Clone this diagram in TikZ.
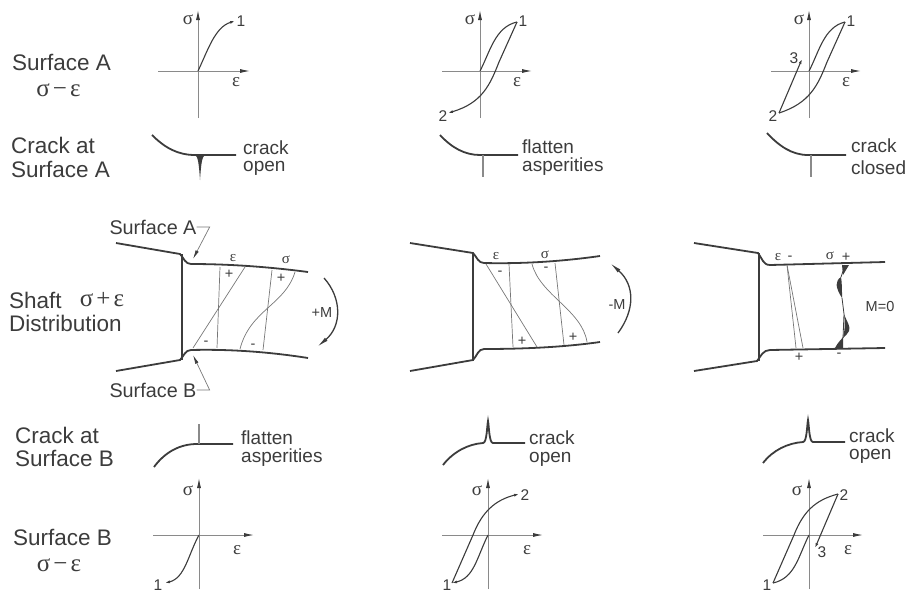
\documentclass[tikz,border=0pt]{standalone}
\usepackage{xcolor}
\usepackage{fontspec}
\setmainfont{Liberation Sans}
\newfontfamily\greekfont{Liberation Serif}
\usetikzlibrary{arrows.meta,positioning}
\definecolor{figink}{HTML}{3C3C3C}
\definecolor{figaxis}{HTML}{8A8A8A}
\definecolor{figthin}{HTML}{777777}
\tikzstyle{rowlabel} = [inner sep=0pt, anchor=west, text=figink, font=\fontsize{22.5}{22.5}\selectfont]
\tikzstyle{rowsym} = [inner sep=0pt, text=figink, font=\fontsize{25}{25}\selectfont\greekfont]
\tikzstyle{notelabel} = [inner sep=0pt, anchor=west, text=figink, font=\fontsize{19}{19}\selectfont]
\tikzstyle{leaderlabel} = [inner sep=0pt, text=figink, font=\fontsize{19.8}{19.8}\selectfont]
\tikzstyle{plotsym} = [inner sep=0pt, text=figink, font=\fontsize{19}{19}\selectfont\greekfont]
\tikzstyle{plotnum} = [inner sep=0pt, text=figink, font=\fontsize{15.5}{15.5}\selectfont]
\tikzstyle{smallsym} = [inner sep=0pt, text=figink, font=\fontsize{15}{15}\selectfont\greekfont]
\tikzstyle{smalllabel} = [inner sep=0pt, text=figink, font=\fontsize{14.5}{14.5}\selectfont]
\tikzstyle{axisline} = [figaxis, line width=0.9pt]
\tikzstyle{axisarrow} = [-{Latex[length=10pt,width=4pt,color=figink]}, figaxis, line width=0.9pt]
\tikzstyle{curve} = [figink, line width=1.1pt]
\tikzstyle{curvetip} = [-{Latex[length=5pt,width=3pt]}, figink, line width=1.1pt]
\tikzstyle{crackline} = [figink, line width=1.8pt]
\tikzstyle{crackstem} = [figaxis, line width=1.8pt]
\tikzstyle{shaftline} = [figink, line width=1.8pt]
\tikzstyle{thinline} = [figthin, line width=0.7pt]
\tikzstyle{leader} = [-{Latex[length=9pt,width=3.5pt,color=figink]}, figthin, line width=0.7pt]
\tikzstyle{moment} = [-{Latex[length=12pt,width=4pt]}, figink, line width=1.3pt]

\begin{document}
\begin{tikzpicture}[x=1pt, y=-1pt]
\useasboundingbox (0,0) rectangle (909,592);

% row labels
\node[rowlabel] (labsurfa) at (12,62) {Surface A};
\node[rowsym] (labsea) at (58.5,90) {σ\kern3pt−\kern3ptε};
\node[rowlabel] (labcracka) at (11,145) {Crack at};
\node[rowlabel] (labcrackasurf) at (11,169) {Surface A};
\node[rowlabel] (labshaft) at (9,300) {Shaft};
\node[rowsym] (labshaftse) at (102,300) {σ\kern3pt+\kern3ptε};
\node[rowlabel] (labdist) at (9,323) {Distribution};
\node[rowlabel] (labcrackb) at (15,435) {Crack at};
\node[rowlabel] (labcrackbsurf) at (15,458) {Surface B};
\node[rowlabel] (labsurfb) at (13,537) {Surface B};
\node[rowsym] (labseb) at (59,565) {σ\kern3pt−\kern3ptε};

% top plots
\draw[axisline] (198,118) -- (198,71);
\draw[axisarrow] (198,71) -- (198,10);
\draw[axisarrow] (158,71) -- (250,71);
\draw[curvetip] (198,71) .. controls (208,50) and (215,27) .. (235,21);
\node[plotsym] (sa1s) at (188,20) {σ};
\node[plotsym] (sa1e) at (236,82) {ε};
\node[plotnum] (sa1p) at (241,21) {1};

\draw[axisline] (480,118) -- (480,71);
\draw[axisarrow] (480,71) -- (480,10);
\draw[axisarrow] (442,71) -- (532,71);
\draw[curve] (480,71) .. controls (490,52) and (495,27) .. (517,22);
\draw[curvetip] (517,22) -- (499,62) .. controls (490,85) and (482,103) .. (448,113);
\node[plotsym] (sa2s) at (470,20) {σ};
\node[plotsym] (sa2e) at (517,82) {ε};
\node[plotnum] (sa2p) at (523,21) {1};
\node[plotnum] (sa2q) at (443,116) {2};

\draw[axisline] (809,118) -- (809,71);
\draw[axisarrow] (809,71) -- (809,10);
\draw[axisarrow] (771,71) -- (861,71);
\draw[curve] (809,71) .. controls (819,52) and (824,27) .. (845,22);
\draw[curve] (845,22) -- (827,62) .. controls (818,85) and (810,103) .. (779,113);
\draw[curvetip] (779,113) -- (802,59);
\node[plotsym] (sa3s) at (799,20) {σ};
\node[plotsym] (sa3e) at (846,82) {ε};
\node[plotnum] (sa3p) at (851,21) {1};
\node[plotnum] (sa3q) at (773,116) {2};
\node[plotnum] (sa3r) at (794,58) {3};

% crack at surface A
\draw[crackline] (152,135) .. controls (165,148) and (178,155) .. (195,155) -- (236,155);
\fill[figink] (195,155) .. controls (198,156) and (199,165) .. (200,180)
    .. controls (201,165) and (202,156) .. (205,155) -- cycle;
\node[notelabel] (ca1a) at (243,148) {crack};
\node[notelabel] (ca1b) at (243,168) {open};
\draw[crackline] (440,135) .. controls (452,148) and (465,155) .. (480,155) -- (518,155);
\draw[crackstem] (483,155) -- (483,177);
\node[notelabel] (ca2a) at (522,147) {flatten};
\node[notelabel] (ca2b) at (522,167) {asperities};
\draw[crackline] (767,133) .. controls (779,146) and (792,155) .. (808,155) -- (846,155);
\draw[crackstem] (811,155) -- (811,177);
\node[notelabel] (ca3a) at (851,146) {crack};
\node[notelabel] (ca3b) at (851,168) {closed};

% shaft 1
\draw[shaftline] (116,243) -- (180,254) .. controls (184,258) and (185,264) .. (191,264)
    .. controls (230,264) and (270,267) .. (308,272);
\draw[shaftline] (182,254) -- (182,360);
\draw[shaftline] (116,371) -- (180,360) .. controls (184,356) and (185,350) .. (191,350)
    .. controls (230,349) and (270,352) .. (308,358);
\node[leaderlabel] (surfa) at (153,227) {Surface A};
\node[leaderlabel] (surfb) at (153,390) {Surface B};
\coordinate (surfatip) at (193,259);
\coordinate (surfbtip) at (193,355);
\draw[leader] (surfa.east) -- ++(13,0) -- (surfatip);
\draw[leader] (surfb.east) -- ++(13,0) -- (surfbtip);
\node[smallsym] (s1e) at (233,258) {ε};
\node[smallsym] (s1s) at (286,260) {σ};
\draw[thinline] (220,267) -- (217,348);
\draw[thinline] (245,267) -- (193,348);
\draw[thinline] (272,270) -- (263,350);
\draw[thinline] (295,272) .. controls (285,305) and (250,310) .. (240,349);
\node[smalllabel] (s1a) at (229,274) {+};
\node[smalllabel] (s1b) at (281,278) {+};
\node[smalllabel] (s1c) at (206,343) {-};
\node[smalllabel] (s1d) at (253,346) {-};
\draw[moment] (324,278) .. controls (342,298) and (342,326) .. (317,347);
\node[smalllabel] (s1m) at (322,313) {+M};

% shaft 2
\draw[shaftline] (410,243) -- (473,253) .. controls (477,257) and (478,263) .. (484,263)
    .. controls (525,264) and (565,261) .. (600,256);
\draw[shaftline] (473,253) -- (473,361);
\draw[shaftline] (410,371) -- (473,360) .. controls (477,356) and (478,349) .. (484,349)
    .. controls (525,349) and (565,347) .. (600,342);
\node[smallsym] (s2e) at (496,256) {ε};
\node[smallsym] (s2s) at (545,255) {σ};
\draw[thinline] (486,264) -- (537,347);
\draw[thinline] (509,264) -- (513,347);
\draw[thinline] (555,263) -- (564,345);
\draw[thinline] (532,264) .. controls (540,295) and (582,310) .. (587,342);
\node[smalllabel] (s2a) at (500,273) {-};
\node[smalllabel] (s2b) at (546,269) {-};
\node[smalllabel] (s2c) at (522,341) {+};
\node[smalllabel] (s2d) at (573,337) {+};
\draw[moment] (618,333) .. controls (635,310) and (635,285) .. (610,263);
\node[smalllabel] (s2m) at (617,305) {-M};

% shaft 3
\draw[shaftline] (694,243) -- (758,253) .. controls (762,258) and (763,265) .. (770,265) -- (885,262);
\draw[shaftline] (759,253) -- (759,361);
\draw[shaftline] (694,371) -- (757,361) .. controls (761,356) and (763,350) .. (770,350) -- (885,348);
\node[smallsym] (s3e) at (778,257) {ε};
\node[smalllabel] (s3a) at (790,258) {-};
\node[smallsym] (s3s) at (830,256) {σ};
\node[smalllabel] (s3b) at (846,257) {+};
\node[smalllabel] (s3c) at (799,357) {+};
\node[smalllabel] (s3d) at (839,355) {-};
\draw[thinline] (787,265) -- (803,348);
\draw[thinline] (787,265) -- (796,348);
\draw[figink, line width=0.8pt] (845,265) -- (841,277) (842,298) -- (844,314) (844,314) -- (843,338);
\fill[figink] (849,265) -- (842,265) -- (843,275) -- cycle;
\fill[figink] (841,277) .. controls (835,281) and (835,287) .. (842,298)
    .. controls (842,290) and (842,283) .. (841,277) -- cycle;
\fill[figink] (844,314) .. controls (847,322) and (851,327) .. (849,331)
    .. controls (848,334) and (845,336) .. (843,338) .. controls (845,330) and (845,322) .. (844,314) -- cycle;
\fill[figink] (835,348) -- (843,348) -- (843,337) .. controls (841,340) and (838,342) .. (835,348) -- cycle;
\node[smalllabel] (s3m) at (880,307) {M=0};

% crack at surface B
\draw[crackline] (154,467) .. controls (165,452) and (180,444) .. (197,444) -- (233,444);
\draw[crackstem] (199,424) -- (199,444);
\node[notelabel] (cb1a) at (241,438) {flatten};
\node[notelabel] (cb1b) at (241,458) {asperities};
\draw[crackline] (443,465) .. controls (453,452) and (468,444) .. (483,443)
    .. controls (487,443) and (487,425) .. (488,421) .. controls (489,425) and (489,443) .. (493,443) -- (525,443);
\node[notelabel] (cb2a) at (529,438) {crack};
\node[notelabel] (cb2b) at (529,459) {open};
\draw[crackline] (763,463) .. controls (773,450) and (788,443) .. (803,442)
    .. controls (807,442) and (807,424) .. (808,420) .. controls (809,424) and (809,442) .. (813,442) -- (845,442);
\node[notelabel] (cb3a) at (849,436) {crack};
\node[notelabel] (cb3b) at (849,456) {open};

% bottom plots
\draw[axisline] (199,589) -- (199,535);
\draw[axisarrow] (199,535) -- (199,478);
\draw[axisarrow] (153,535) -- (254,535);
\draw[curvetip] (199,535) .. controls (188,555) and (185,578) .. (165,583);
\node[plotsym] (sb1s) at (188,491) {σ};
\node[plotsym] (sb1e) at (237,550) {ε};
\node[plotnum] (sb1p) at (158,585) {1};

\draw[axisline] (488,589) -- (488,535);
\draw[axisarrow] (488,535) -- (488,478);
\draw[axisarrow] (442,535) -- (543,535);
\draw[curvetip] (488,535) .. controls (477,557) and (474,578) .. (452,583);
\draw[curvetip] (452,583) -- (473,535) .. controls (482,512) and (495,500) .. (519,494);
\node[plotsym] (sb2s) at (477,491) {σ};
\node[plotsym] (sb2e) at (527,550) {ε};
\node[plotnum] (sb2p) at (447,585) {1};
\node[plotnum] (sb2q) at (525,495) {2};

\draw[axisline] (809,589) -- (809,535);
\draw[axisarrow] (809,535) -- (809,478);
\draw[axisarrow] (763,535) -- (863,535);
\draw[curve] (809,535) .. controls (798,557) and (795,578) .. (773,583);
\draw[curve] (773,583) -- (794,535) .. controls (803,512) and (815,500) .. (838,494);
\draw[curvetip] (838,494) -- (815,548);
\node[plotsym] (sb3s) at (797,491) {σ};
\node[plotsym] (sb3e) at (848,550) {ε};
\node[plotnum] (sb3p) at (767,585) {1};
\node[plotnum] (sb3q) at (844,495) {2};
\node[plotnum] (sb3r) at (822,552) {3};

\end{tikzpicture}
\end{document}
